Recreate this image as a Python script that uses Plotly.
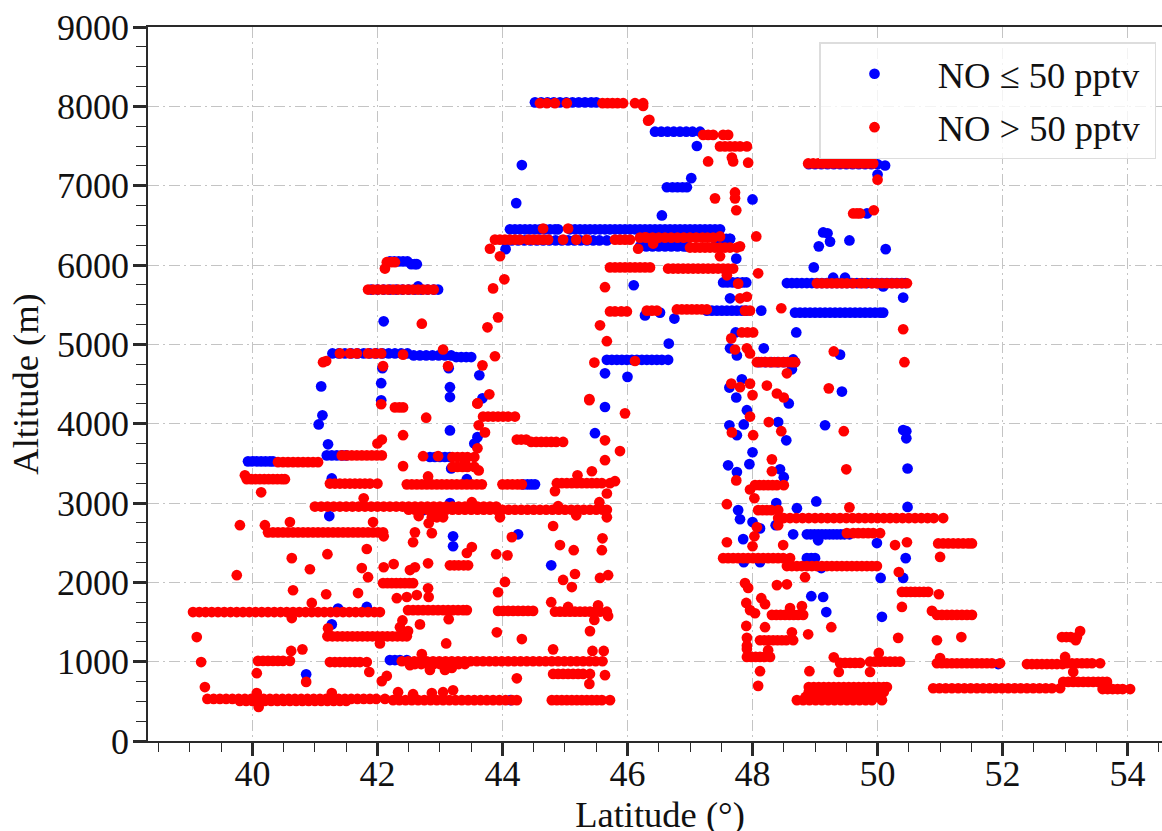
import plotly.graph_objects as go

# Flight-level rows: (altitude in m, latitudes in degrees)
blue_rows = [
 (8050, [44.52,44.62,44.72,44.82,44.92,45.02,45.12,45.22,45.32,45.42,45.5]),
 (7680, [46.44,46.54,46.64,46.74,46.84,46.94,47.04,47.16]),
 (7270, [48.9,49.0,49.1,49.2,49.3,49.4,49.5,49.6,49.7,49.8,49.9,50.0]),
 (6980, [46.63,46.72,46.8,46.88,46.95]),
 (6450, [44.12,44.2,44.28,44.36,44.44,44.52,44.6,44.68,44.76,44.84,44.89,45.08,45.16,45.24,45.32,45.4,45.48,45.56,45.64,45.72,45.8,45.88,45.96,46.04,46.12,46.2,46.28,46.36,46.44,46.52,46.6,46.68,46.76,46.84,46.92,47.0,47.08,47.16,47.24,47.32,47.4,47.48]),
 (6310, [44.05,44.15,44.25,44.35,44.45,44.55,44.65,44.75,44.85,44.95,45.05,45.15,45.25,45.35,45.45,45.55,45.67]),
 (6330, [47.4,47.5,47.58,47.64]),
 (6235, [46.2,46.3,46.4,46.5,46.6,46.7,46.8,46.9,46.95]),
 (6045, [42.2,42.27,42.34,42.41,42.48]),
 (6010, [42.54,42.6,42.63]),
 (5780, [47.53,47.6,47.68,47.76,47.84,47.9]),
 (5772, [48.55,48.63,48.71,48.79,48.87,48.95,49.03,49.11,49.19,49.27,49.35,49.43,49.51,49.59,49.67,49.75,49.83,49.91,49.99,50.07,50.15,50.23,50.31,50.39,50.45]),
 (5690, [41.9,42.0,42.1,42.2,42.3,42.4,42.5,42.6,42.7,42.8,42.9,42.97]),
 (5425, [47.27,47.35,47.43,47.51,47.59,47.67,47.75,47.83,47.9]),
 (5400, [48.68,48.76,48.84,48.92,49.0,49.08,49.16,49.24,49.32,49.4,49.48,49.56,49.64,49.72,49.8,49.88,49.96,50.04,50.09]),
 (4885, [41.28,41.38,41.48,41.58,41.68,41.78,41.88,41.98,42.08,42.18,42.28,42.38,42.48]),
 (4860, [42.58,42.68,42.78,42.88,42.98,43.08,43.18]),
 (4840, [43.26,43.34,43.42,43.5]),
 (4805, [45.67,45.75,45.83,45.91,45.99,46.07,46.15,46.23,46.31,46.39,46.47,46.55,46.65]),
 (4775, [48.1,48.2,48.3,48.4,48.5,48.6,48.68]),
 (3600, [41.19,41.27,41.35,41.43,41.5]),
 (3580, [42.84,42.92,43.0,43.08,43.16]),
 (3525, [39.93,40.0,40.07,40.14,40.21,40.28,40.33]),
 (3235, [44.33,44.4,44.46,44.52]),
 (2605, [48.87,48.93,48.99,49.05,49.11,49.17,49.23,49.29,49.35,49.41,49.47,49.55]),
 (2305, [48.87,48.94,49.0]),
 (1020, [42.2,42.28,42.36,42.47]),
]
blue_iso_lat = [47.11,48.0,50.12,50.0,49.83,44.31,44.22,47.64,47.02,44.05,47.74,46.1,46.55,49.06,49.13,49.2,49.24,49.55,50.13,48.98,49.29,49.48,50.09,50.41,48.7,48.18,47.73,48.14,46.28,46.52,46.75,47.64,46.66,45.64,46.0,47.64,47.75,48.65,48.63,49.4,47.83,47.63,47.74,49.43,48.58,47.91,42.65,42.1,41.1,42.06,42.06,43.16,43.16,43.63,43.68,45.64,42.08,43.14,41.12,41.06,41.21,41.27,43.18,43.16,43.6,43.55,43.43,45.48,43.16,42.73,41.23,43.21,43.21,44.25,44.78,41.27,41.37,41.83,40.86,44.13,47.63,47.86,47.75,48.41,48.54,49.16,50.46,50.46,50.48,48.0,47.95,47.61,47.75,48.44,48.5,48.38,47.77,47.8,49.02,48.71,50.48,48.0,48.12,48.37,48.65,49.05,47.85,49.99,50.45,47.86,48.12,49.1,50.05,50.41,48.94,49.13,49.18,50.07,51.93,50.41]
blue_iso_alt = [7500,6826,7254,7140,6650,7260,6780,6330,7095,6200,6080,5745,6625,6235,6410,6400,6295,6310,6200,5970,5840,5840,5730,5590,5150,4950,5150,5425,5365,5400,5325,5580,5010,4635,4590,4950,4860,4810,4685,4870,4560,4455,4330,4405,4255,4170,5730,5290,4470,4510,4295,4460,4335,4610,4320,4210,4700,4700,4105,3990,3740,3310,3435,3915,3830,3750,3300,3880,3000,2910,2835,2580,2455,2605,2215,1470,1670,1690,840,515,3980,3990,3855,4020,3790,3980,3905,3815,3435,3640,3490,3475,3390,3425,3325,3000,2910,2795,3020,2935,2950,2760,2680,2720,2605,2530,2545,2495,2305,2255,2255,2180,2055,2055,1825,1815,1625,1565,970,3920]

red_rows = [
 (8040, [44.6,44.71,44.84,45.03,45.6,45.68,45.76,45.84,45.93,46.12,46.25]),
 (7640, [47.21,47.29,47.37,47.53,47.61]),
 (7495, [47.48,47.56,47.64,47.72,47.8,47.91]),
 (7280, [48.89,48.97,49.05,49.13,49.21,49.29,49.37,49.45,49.53,49.61,49.69,49.77,49.85,49.93]),
 (6650, [49.61,49.67,49.72]),
 (6320, [43.88,43.96,44.04,44.12,44.2,44.28,44.41,44.49,44.57,44.65,44.73,44.97,45.18,45.35,45.8,45.88,45.96,46.04]),
 (6345, [46.2,46.3,46.4,46.5,46.6,46.7,46.8,46.9,47.0,47.1,47.2,47.28,47.37]),
 (6220, [47.0,47.08,47.16,47.24,47.32,47.4,47.48,47.56,47.64,47.75]),
 (6035, [42.15,42.22,42.28]),
 (5970, [45.72,45.8,45.88,45.96,46.04,46.12,46.2,46.28,46.36]),
 (5955, [46.65,46.73,46.81,46.89,46.97,47.05,47.13,47.21,47.29,47.37,47.45,47.53,47.61,47.69]),
 (5770, [49.03,49.11,49.19,49.27,49.35,49.43,49.51,49.61,49.72,49.8,49.91,49.99,50.07,50.15,50.23,50.31,50.39,50.47]),
 (5690, [41.85,41.93,42.01,42.09,42.17,42.25,42.33,42.41,42.49,42.57,42.65,42.73,42.81,42.9]),
 (5440, [46.79,46.87,46.95,47.03,47.11,47.19,47.27]),
 (5425, [46.31,46.39,46.47,47.88,47.96]),
 (5415, [45.72,45.8,45.9,45.99]),
 (5150, [47.83,47.92,48.01]),
 (4885, [41.4,41.56,41.67,41.85,41.96,42.06]),
 (4775, [48.07,48.14,48.21,48.28,48.35,48.42,48.49,48.56,48.63,48.68]),
 (4205, [42.28,42.35,42.41]),
 (4090, [43.69,43.77,43.85,43.93,44.01,44.09,44.2]),
 (3800, [44.23,44.3,44.38]),
 (3770, [44.46,44.54,44.62,44.7,44.78,44.86,44.97]),
 (3600, [41.43,41.51,41.59,41.67,41.75,41.83,41.91,41.99,42.07]),
 (3580, [43.2,43.28,43.36,43.44,43.55]),
 (3515, [40.41,40.49,40.57,40.65,40.73,40.81,40.89,40.97,41.05]),
 (3455, [43.2,43.28,43.36,43.44,43.55]),
 (3300, [39.91,39.98,40.05,40.12,40.19,40.26,40.33,40.4,40.47,40.52]),
 (3245, [41.24,41.32,41.4,41.48,41.56,41.64,41.72,41.8,41.88,42.0]),
 (3235, [42.47,42.55,42.63,42.71,42.79,42.87,42.95,43.03,43.11,43.19,43.27,43.35,43.43,43.51,43.59,43.67,44.0,44.08,44.16,44.24,44.31]),
 (3250, [44.87,44.95,45.03,45.11,45.19,45.27,45.35,45.43,45.51,45.59,45.72]),
 (3225, [48.04,48.11,48.18,48.25,48.32,48.39,48.5]),
 (2955, [41.0,41.1,41.2,41.3,41.4,41.5,41.6,41.7,41.8,41.9,42.0,42.1,42.2,42.3,42.4,42.5,42.6,42.7,42.8,42.9,43.0,43.1,43.2,43.3,43.4,43.5,43.6,43.7,43.8,43.9]),
 (2915, [42.5,42.6,42.7,42.8,42.9,43.0,43.1,43.2,43.3,43.4,43.5,43.6,43.7,43.8,43.9,44.0,44.1,44.2,44.3,44.4,44.5,44.6,44.7,44.8,44.9,45.0,45.1,45.2,45.3,45.4,45.5,45.6,45.67]),
 (2910, [48.09,48.16,48.23,48.3,48.41]),
 (2810, [48.41,48.5,48.6,48.7,48.8,48.9,49.0,49.1,49.2,49.3,49.4,49.5,49.6,49.7,49.8,49.9,50.0,50.1,50.2,50.3,50.4,50.5,50.6,50.7,50.8,50.9,51.05]),
 (2630, [40.25,40.33,40.41,40.49,40.57,40.65,40.73,40.81,40.89,40.97,41.05,41.13,41.21,41.29,41.37,41.45,41.53,41.61,41.69,41.77,41.85,41.93,42.01,42.09]),
 (2620, [49.51,49.61,49.69,49.77,49.85,49.93,50.04]),
 (2490, [50.97,51.05,51.13,51.21,51.29,51.37,51.45,51.51]),
 (2305, [47.53,47.61,47.69,47.77,47.85,47.93,48.01,48.09,48.17,48.25,48.33,48.41,48.49,48.6]),
 (2205, [48.55,48.63,48.71,48.79,48.87,48.95,49.03,49.11,49.19,49.27,49.35,49.43,49.51,49.59,49.67,49.75,49.83,49.91,49.99]),
 (2215, [43.16,43.23,43.3,43.38,43.45]),
 (1990, [42.09,42.16,42.23,42.3,42.37,42.44,42.51,42.57]),
 (1880, [50.39,50.46,50.53,50.6,50.67,50.74,50.81]),
 (1625, [39.05,39.15,39.25,39.35,39.45,39.55,39.65,39.75,39.85,39.95,40.05,40.15,40.25,40.35,40.45,40.55,40.65,40.75,40.85,40.95,41.05,41.15,41.25,41.35,41.45,41.55,41.65,41.75,41.85,41.95,42.04]),
 (1650, [42.49,42.57,42.65,42.73,42.81,42.89,42.97,43.05,43.13,43.21,43.29,43.37,43.43]),
 (1640, [43.93,44.01,44.09,44.17,44.25,44.33,44.41,44.49]),
 (1630, [44.84,44.92,45.0,45.08,45.16,45.24,45.32,45.4,45.48,45.56,45.67]),
 (1590, [48.31,48.38,48.45,48.52,48.59,48.66,48.73,48.81,50.95,51.03,51.11,51.19,51.27,51.35,51.43,51.51]),
 (1320, [41.2,41.28,41.36,41.44,41.52,41.6,41.68,41.76,41.84,41.92,42.0,42.08,42.16,42.24,42.32,42.4,42.47]),
 (1310, [52.95,53.02,53.09,53.19]),
 (1270, [48.12,48.19,48.26,48.33,48.4,48.47,48.54,48.65]),
 (1060, [47.91,47.98,48.05,48.12,48.19,48.28]),
 (1010, [40.09,40.17,40.25,40.33,40.41,40.49,40.6]),
 (995, [41.24,41.32,41.4,41.48,41.56,41.64,41.72,41.83]),
 (1005, [42.39,42.49,42.59,42.69,42.79,42.89,42.99,43.09,43.19,43.29,43.39,43.49,43.59,43.69,43.79,43.89,43.99,44.09,44.19,44.29,44.39,44.49,44.59,44.69,44.79,44.89,44.99,45.09,45.19,45.29,45.39,45.49,45.6]),
 (970, [42.6,42.7,42.8,42.9,43.0,43.1,43.2,43.3,43.4]),
 (985, [49.4,49.48,49.56,49.64,49.72]),
 (1000, [49.88,49.96,50.04,50.12,50.2,50.28,50.36]),
 (980, [50.95,51.03,51.11,51.19,51.27,51.35,51.43,51.51,51.59,51.67,51.75,51.83,51.96,53.03,53.11,53.19,53.27,53.35,53.43,53.56]),
 (970, [52.39,52.47,52.55,52.63,52.71,52.79,52.87,52.96]),
 (845, [44.81,44.89,44.97,45.05,45.13,45.21,45.29,45.4]),
 (745, [52.97,53.05,53.13,53.21,53.29,53.37,53.45,53.53,53.6,53.67]),
 (680, [48.9,48.98,49.06,49.14,49.22,49.3,49.38,49.46,49.54,49.62,49.7,49.78,49.86,49.94,50.02,50.1,50.15]),
 (665, [50.89,50.99,51.09,51.19,51.29,51.39,51.49,51.59,51.69,51.79,51.89,51.99,52.09,52.19,52.29,52.39,52.49,52.59,52.69,52.79,52.92]),
 (655, [53.6,53.68,53.76,53.84,53.92,54.04]),
 (617, [48.9,49.0,49.1,49.2,49.3,49.4,49.5,49.6,49.7,49.8,49.9,50.0,50.1]),
 (555, [48.85,48.95,49.05,49.15,49.25,49.35,49.45,49.55,49.65,49.75,49.85,49.95,50.05]),
 (530, [39.28,39.38,39.48,39.58,39.68,39.78,39.88,39.98,40.08,40.18,40.28,40.38,40.48,40.58,40.68,40.78,40.88,40.98,41.08,41.18,41.28,41.38,41.48,41.58,41.68,41.78,41.88,41.98,42.12]),
 (505, [39.8,39.9,40.0,40.1,40.2,40.3,40.4,40.5,40.6,40.7,40.8,40.9,41.0,41.1,41.2,41.3,41.4,41.5]),
 (515, [42.25,42.35,42.45,42.55,42.65,42.75,42.85,42.95,43.05,43.15,43.25,43.35,43.45,43.55,43.65,43.75,43.85,43.95,44.05,44.15,44.23,44.79,44.87,44.95,45.03,45.11,45.19,45.27,45.35,45.43,45.51,45.59,45.72,48.71,48.81,48.91,49.01,49.11,49.21,49.31,49.41,49.51,49.61,49.71,49.81,49.91,50.07]),
]
red_iso_lat = [46.33,46.25,46.35,47.29,47.67,47.69,47.93,47.4,47.72,47.72,47.74,48.06,50.0,49.94,44.65,45.05,46.17,43.8,43.96,44.03,43.85,43.76,43.93,43.88,43.68,43.79,43.6,46.41,47.48,47.48,47.8,46.28,47.59,48.09,47.77,45.64,45.56,45.67,45.47,46.12,45.39,47.8,47.91,48.46,47.66,47.72,47.91,47.96,49.3,48.55,47.66,47.8,47.96,48.0,48.23,48.39,48.5,49.22,50.41,50.43,42.12,42.71,41.13,41.18,42.41,43.05,42.09,43.13,42.06,42.78,43.6,42.41,43.62,43.72,43.6,42.0,42.07,45.39,45.64,45.88,45.96,45.64,42.73,42.97,43.62,42.41,39.88,40.14,42.81,44.84,45.8,45.2,45.43,45.67,45.55,41.78,43.51,44.89,43.96,42.66,42.87,42.95,43.05,42.82,45.67,45.18,40.2,40.6,39.8,41.93,42.1,42.6,42.57,42.87,44.81,45.6,44.92,45.14,45.59,44.15,41.83,43.43,43.51,41.2,40.63,43.9,44.08,42.81,42.26,42.1,42.6,42.52,40.92,41.75,41.85,39.75,45.16,44.97,45.56,45.69,44.04,45.11,40.65,41.18,41.69,43.93,42.47,42.63,42.81,42.82,42.31,44.78,40.95,40.63,45.53,42.4,42.36,42.68,43.14,45.05,45.47,45.69,41.21,42.49,42.04,43.91,44.31,45.4,43.1,39.11,40.62,40.8,39.18,42.71,44.81,45.44,45.62,42.52,42.84,43.08,43.19,40.07,40.86,41.87,42.15,42.07,44.23,45.64,45.39,39.24,40.07,40.1,41.27,42.33,42.57,42.87,43.05,43.21,47.96,48.26,47.67,48.01,48.46,49.46,49.5,48.31,48.31,47.74,47.96,48.03,47.59,49.55,48.07,48.03,48.0,48.41,47.59,48.49,50.28,50.47,51.0,48.84,50.34,47.88,47.93,48.39,48.55,50.98,48.14,48.2,47.9,48.79,47.96,48.04,48.6,50.39,50.87,47.9,48.2,49.26,48.63,48.89,50.33,51.34,50.95,53.24,53.17,47.91,47.91,48.12,48.09,48.91,49.3,50.02,49.38,49.88,51.0,53.0,53.13,48.25,43.4,47.91]
red_iso_alt = [7820,8005,7830,7305,7355,7305,7290,6840,6915,6840,6690,6360,7075,6690,6460,6460,6205,6205,6110,5820,5705,5215,5340,4850,4735,4370,4255,6270,6360,6110,6235,6350,5870,5895,5765,5720,5240,5040,4770,4790,4310,5580,5600,5455,5075,4935,4950,4885,4910,4635,4505,4460,4505,4360,4480,4380,4330,4445,5190,4775,5955,5260,4775,4790,4870,4935,4725,4725,4245,4075,4255,3855,3980,3890,3690,3750,3800,4295,3790,3655,4130,3540,3590,3590,3410,3465,3350,3135,3335,3150,3275,3350,3400,3120,3010,3060,3010,2960,2820,2835,2820,2820,2820,2745,2820,2845,2720,2760,2720,2760,2580,2630,2505,2620,2710,2555,2470,2405,2405,2570,2420,2370,2445,2355,2305,2355,2340,2240,2230,2190,2190,2155,2165,2180,2065,2090,2105,2030,2055,2090,2005,1940,1900,1850,1865,1875,1815,1840,1925,1815,1800,1750,1740,1550,1710,1520,1435,1470,1535,1690,1525,1575,1420,1385,1230,1370,1285,1385,1230,1310,1135,1155,995,1095,1155,1135,1135,955,895,895,920,855,745,870,820,755,790,830,720,680,605,430,605,615,590,605,615,640,4090,4020,3890,3855,3905,3905,3425,3550,3400,3285,3170,3060,2985,2945,2695,2580,2455,2720,2505,2470,2470,2505,2320,2065,2130,1990,1930,1965,1975,1850,1800,1725,1740,1700,1650,1610,1675,1690,1640,1450,1435,1435,1370,1345,1300,1310,1270,1385,1270,1300,1200,880,695,880,1055,1110,870,870,1045,1060,870,1145,3520,1160]

blue_lat = [la for _, row in blue_rows for la in row] + blue_iso_lat
blue_alt = [a for a, row in blue_rows for _ in row] + blue_iso_alt
red_lat = [la for _, row in red_rows for la in row] + red_iso_lat
red_alt = [a for a, row in red_rows for _ in row] + red_iso_alt

FONT = "Liberation Serif"
AX = "#2a2a2a"
GRID = "#c4c4c4"
DASH = "11px,4px,2px,4px"

fig = go.Figure()
fig.add_trace(go.Scatter(x=blue_lat, y=blue_alt, mode="markers", name="\u00a0NO ≤ 50 pptv\u00a0", legendgroup="a",
                         marker=dict(color="#0000ff", size=10.7), cliponaxis=False))
fig.add_trace(go.Scatter(x=red_lat, y=red_alt, mode="markers", name="\u00a0NO > 50 pptv\u00a0", legendgroup="b",
                         marker=dict(color="#ff0000", size=10.7), cliponaxis=False))

fig.update_layout(
    width=1172, height=851, autosize=False,
    margin=dict(l=148, r=0, t=27, b=110),
    paper_bgcolor="white", plot_bgcolor="white",
    font=dict(family=FONT, color="#111111", size=36),
    legend=dict(x=(1156-148)/1024, y=1-(42-27)/714, xanchor="right", yanchor="top",
                bgcolor="rgba(255,255,255,0.8)", bordercolor="#dddddd", borderwidth=1.5,
                font=dict(family=FONT, size=36.5, color="#111111"),
                itemwidth=98,
                tracegroupgap=3, traceorder="grouped", itemsizing="trace"),
    xaxis=dict(
        range=[38.33, 54.71], dtick=2, tick0=40, ticks="outside", ticklen=13, tickwidth=2.6, tickcolor=AX,
        minor=dict(dtick=0.5, ticks="outside", ticklen=9, tickwidth=1.3, tickcolor=AX, showgrid=False),
        showline=True, linecolor=AX, linewidth=1.6, mirror=True, zeroline=False, automargin=True,
        showgrid=True, gridcolor=GRID, gridwidth=1.4, griddash=DASH,
        tickfont=dict(family=FONT, size=36), ticklabelstandoff=-13,
        title=dict(text="Latitude (°)", font=dict(family=FONT, size=36.5), standoff=7),
    ),
    yaxis=dict(
        range=[0, 9000], dtick=1000, tick0=0, ticks="outside", ticklen=13, tickwidth=2.6, tickcolor=AX,
        tickformat="d",
        minor=dict(dtick=250, ticks="outside", ticklen=10, tickwidth=1.3, tickcolor=AX, showgrid=False),
        showline=True, linecolor=AX, linewidth=1.6, zeroline=False,
        showgrid=True, gridcolor=GRID, gridwidth=1.4, griddash=DASH,
        tickfont=dict(family=FONT, size=36), ticklabelstandoff=-3,
        title=dict(text="Altitude (m)", font=dict(family=FONT, size=36.5), standoff=7),
    ),
)
fig.write_html("out.html", config={"displayModeBar": False},
               post_script="document.body.style.margin='0';document.documentElement.style.overflow='hidden';document.body.style.overflow='hidden';")
